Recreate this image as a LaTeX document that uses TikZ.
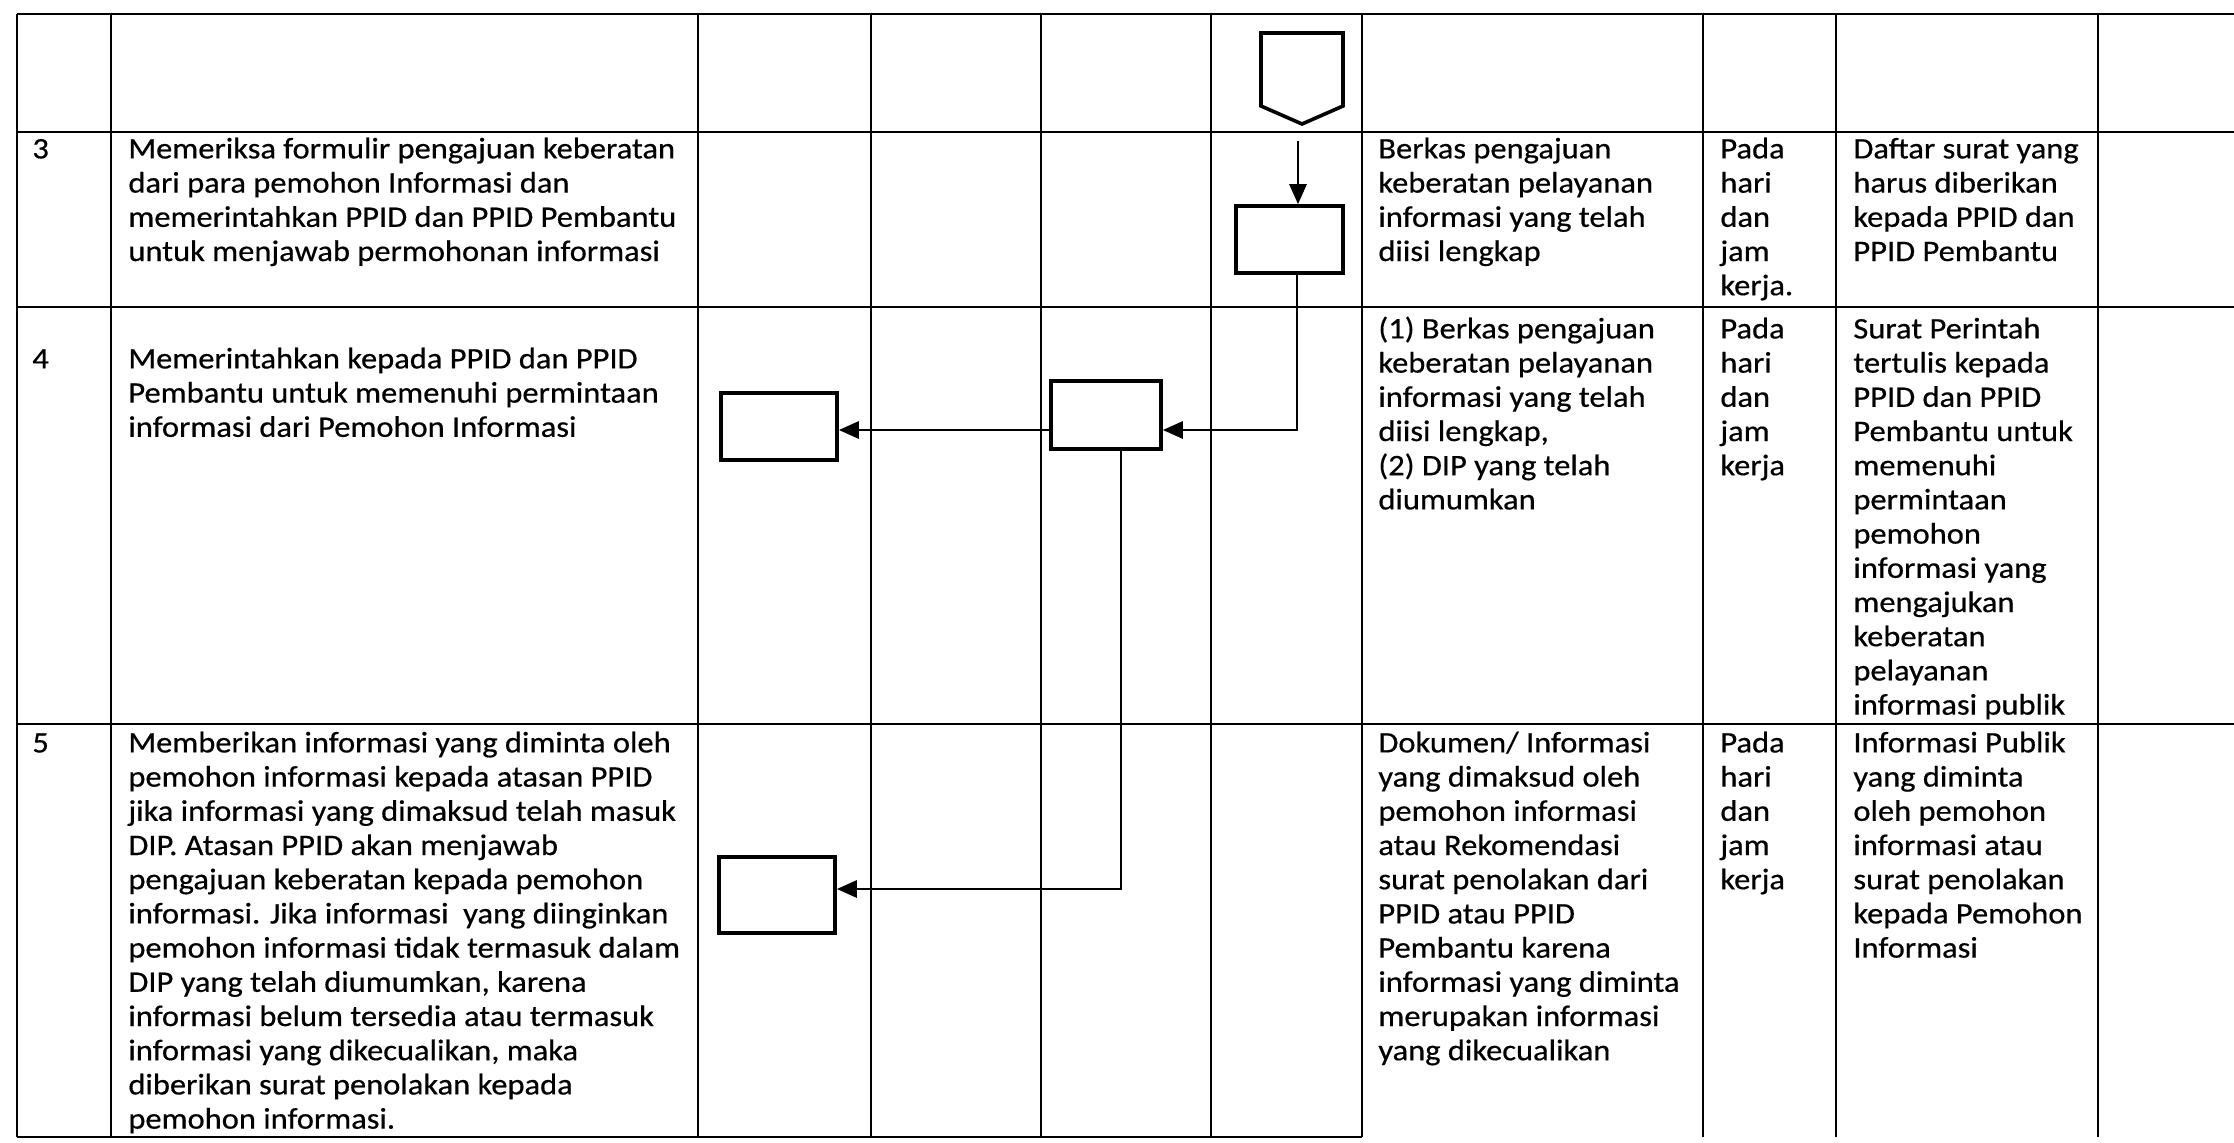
\documentclass[tikz,border=0pt]{standalone}
\usepackage{fontspec}
\setmainfont{Carlito}[FakeStretch=1.09,FakeBold=0.5]
\usetikzlibrary{arrows.meta}
\newcommand\firstln{\rule{0pt}{12pt}}
\begin{document}
\begin{tikzpicture}[x=0.5pt,y=-0.5pt,
  grid/.style={line width=1.2pt},
  box/.style={draw, rectangle, line width=1.8pt, inner sep=0pt},
  outline/.style={line width=1.8pt, line join=miter},
  conn/.style={line width=1.4pt, -{Triangle[length=10pt,width=8.5pt]}},
  txt/.style={anchor=north west, align=left, inner sep=0pt, yshift=12pt, font=\fontsize{14.9}{17.1}\selectfont}]
\useasboundingbox (0,0) rectangle (2234,1142);
\fill[white] (0,0) rectangle (2234,1142);
% table grid
\draw[grid] (17,14) -- (2234,14);
\draw[grid] (17,132) -- (2234,132);
\draw[grid] (17,307) -- (2234,307);
\draw[grid] (17,724) -- (2234,724);
\draw[grid] (17,1137) -- (1362,1137);
\foreach \cx in {17,111,698,871,1041,1211,1362,1703,1836,2098}
  \draw[grid] (\cx,14) -- (\cx,1137);
% row numbers (positions are first baselines)
\node[txt] (n3) at (32,158) {\firstln 3};
\node[txt] (n4) at (32,368) {\firstln 4};
\node[txt] (n5) at (32,752) {\firstln 5};
% row 3 texts
\node[txt] (t3a) at (128,158) {\firstln Memeriksa formulir pengajuan keberatan\\dari para pemohon Informasi dan\\memerintahkan PPID dan PPID Pembantu\\untuk menjawab permohonan informasi};
\node[txt] (t3b) at (1378,158) {\firstln Berkas pengajuan\\keberatan pelayanan\\informasi yang telah\\diisi lengkap};
\node[txt] (t3c) at (1720,158) {\firstln Pada\\hari\\dan\\jam\\kerja.};
\node[txt] (t3d) at (1853,158) {\firstln Daftar surat yang\\harus diberikan\\kepada PPID dan\\PPID Pembantu};
% row 4 texts
\node[txt] (t4a) at (128,368) {\firstln Memerintahkan kepada PPID dan PPID\\Pembantu untuk memenuhi permintaan\\informasi dari Pemohon Informasi};
\node[txt] (t4b) at (1378,338) {\firstln (1) Berkas pengajuan\\keberatan pelayanan\\informasi yang telah\\diisi lengkap,\\(2) DIP yang telah\\diumumkan};
\node[txt] (t4c) at (1720,338) {\firstln Pada\\hari\\dan\\jam\\kerja};
\node[txt] (t4d) at (1853,338) {\firstln Surat Perintah\\tertulis kepada\\PPID dan PPID\\Pembantu untuk\\memenuhi\\permintaan\\pemohon\\informasi yang\\mengajukan\\keberatan\\pelayanan\\informasi publik};
% row 5 texts
\node[txt] (t5a) at (128,752) {\firstln Memberikan informasi yang diminta oleh\\pemohon informasi kepada atasan PPID\\jika informasi yang dimaksud telah masuk\\DIP. Atasan PPID akan menjawab\\pengajuan keberatan kepada pemohon\\informasi. Jika informasi\ \ yang diinginkan\\pemohon informasi tidak termasuk dalam\\DIP yang telah diumumkan, karena\\informasi belum tersedia atau termasuk\\informasi yang dikecualikan, maka\\diberikan surat penolakan kepada\\pemohon informasi.};
\node[txt] (t5b) at (1378,752) {\firstln Dokumen/ Informasi\\yang dimaksud oleh\\pemohon informasi\\atau Rekomendasi\\surat penolakan dari\\PPID atau PPID\\Pembantu karena\\informasi yang diminta\\merupakan informasi\\yang dikecualikan};
\node[txt] (t5c) at (1720,752) {\firstln Pada\\hari\\dan\\jam\\kerja};
\node[txt] (t5d) at (1853,752) {\firstln Informasi Publik\\yang diminta\\oleh pemohon\\informasi atau\\surat penolakan\\kepada Pemohon\\Informasi};
% off-page connector
\draw[outline] (1261,33) -- (1343,33) -- (1343,106) -- (1302,124) -- (1261,106) -- cycle;
% process boxes
\node[box, minimum width=53.5pt, minimum height=33.5pt] (b3) at (1289.5,239.5) {};
\node[box, minimum width=55pt, minimum height=34pt] (b4m) at (1106,415) {};
\node[box, minimum width=58pt, minimum height=33.5pt] (b4l) at (779,426.5) {};
\node[box, minimum width=58pt, minimum height=38pt] (b5l) at (777,895) {};
% connectors
\coordinate (s0) at (1298,141);
\draw[conn] (s0) -- (s0 |- b3.north);
\coordinate (j1) at (1297,430);
\draw[conn] (b3.south -| j1) -- (j1) -- (b4m.east |- j1);
\draw[conn] (b4m.west |- j1) -- (b4l.east |- j1);
\coordinate (j2) at (1121,889);
\draw[conn] (b4m.south -| j2) -- (j2) -- (b5l.east |- j2);
\end{tikzpicture}
\end{document}
